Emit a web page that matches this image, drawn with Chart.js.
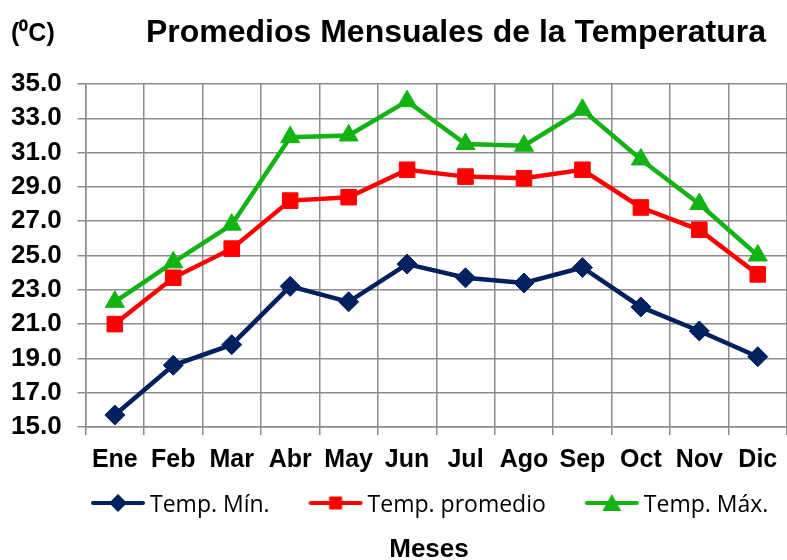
<!DOCTYPE html>
<html>
<head>
<meta charset="utf-8">
<script src="https://cdn.jsdelivr.net/npm/chart.js@4/dist/chart.umd.min.js"></script>
<style>
  html, body { margin: 0; padding: 0; background: #fff; }
  #wrap { width: 787px; height: 560px; }
</style>
</head>
<body>
<div id="wrap"><canvas id="tempChart"></canvas></div>
<script>
const meses = ["Ene", "Feb", "Mar", "Abr", "May", "Jun", "Jul", "Ago", "Sep", "Oct", "Nov", "Dic"];
const tempMin = [15.7, 18.6, 19.8, 23.2, 22.3, 24.5, 23.7, 23.4, 24.3, 22.0, 20.6, 19.1];
const tempProm = [21.0, 23.7, 25.4, 28.2, 28.4, 30.0, 29.6, 29.5, 30.0, 27.8, 26.5, 23.9];
const tempMax = [22.3, 24.6, 26.8, 31.9, 32.0, 34.0, 31.5, 31.4, 33.5, 30.6, 28.0, 25.0];
const yMin = 15, yMax = 35, yStep = 2;

const AZUL = "#002060", ROJO = "#ff0000", VERDE = "#12b312";
const GRID = "#8c8c8c";
const BOLD = "'Liberation Sans', Arial, sans-serif";

// small picture for the legend: a line with the marker in the middle
function legendIcon(color, shape) {
  const c = document.createElement("canvas");
  c.width = 56; c.height = 22;
  const g = c.getContext("2d");
  g.strokeStyle = color; g.fillStyle = color; g.lineWidth = 4; g.lineCap = "round";
  g.beginPath(); g.moveTo(3, 11); g.lineTo(53, 11); g.stroke();
  g.beginPath();
  if (shape === "diamond") {
    g.moveTo(28, 2); g.lineTo(37, 11); g.lineTo(28, 20); g.lineTo(19, 11);
  } else if (shape === "square") {
    g.rect(21.5, 4.5, 13, 13);
  } else {
    g.moveTo(28, 2); g.lineTo(37.5, 19); g.lineTo(18.5, 19);
  }
  g.closePath(); g.fill();
  return c;
}
const icons = [legendIcon(AZUL, "diamond"), legendIcon(ROJO, "square"), legendIcon(VERDE, "triangle")];

// header, legend row and "Meses" are drawn by hand around the plot
const extraText = {
  id: "extraText",
  afterDraw(chart) {
    const ctx = chart.ctx;
    ctx.save();
    ctx.fillStyle = "#000";
    ctx.textBaseline = "alphabetic";

    ctx.font = "bold 25px " + BOLD;
    ctx.textAlign = "left";
    ctx.fillText("(\u2070C)", 11, 41);
    ctx.font = "bold 32px " + BOLD;
    ctx.textAlign = "right";
    ctx.fillText("Promedios Mensuales de la Temperatura", 766, 42);

    // legend
    ctx.font = "23px 'Open Sans', sans-serif";
    ctx.textAlign = "left";
    let x = 90;
    chart.data.datasets.forEach((ds, i) => {
      ctx.drawImage(icons[i], x, 492);
      ctx.fillText(ds.label, x + 60, 512);
      x += 60 + ctx.measureText(ds.label).width + 38;
    });

    ctx.font = "bold 26px " + BOLD;
    ctx.textAlign = "center";
    ctx.fillText("Meses", 429, 557);
    ctx.restore();
  }
};

function serie(label, data, color, style, radius) {
  return {
    label: label,
    data: data,
    borderColor: color,
    backgroundColor: color,
    borderWidth: 4.5,
    pointStyle: style,
    pointRadius: radius,
    pointHoverRadius: radius,
    pointBackgroundColor: color,
    pointBorderColor: color,
    pointBorderWidth: 1,
    tension: 0
  };
}

new Chart(document.getElementById("tempChart"), {
  type: "line",
  data: {
    labels: meses,
    datasets: [
      serie("Temp. Mín.", tempMin, AZUL, "rectRot", 10),
      serie("Temp. promedio", tempProm, ROJO, "rect", 11),
      serie("Temp. Máx.", tempMax, VERDE, "triangle", 11)
    ]
  },
  options: {
    responsive: true,
    maintainAspectRatio: false,
    animation: false,
    layout: { autoPadding: false, padding: { top: 84, left: -5, right: 0, bottom: 75 } },
    scales: {
      x: {
        offset: true,
        grid: { offset: true, color: GRID, lineWidth: 1.5, tickLength: 8 },
        border: { color: GRID, width: 1.5 },
        ticks: {
          color: "#000",
          padding: 10,
          maxRotation: 0,
          autoSkip: false,
          font: { family: BOLD, size: 25, weight: "bold" }
        },
        afterFit(scale) { scale.paddingRight = 0; }
      },
      y: {
        min: yMin,
        max: yMax,
        grid: { color: GRID, lineWidth: 1.5, tickLength: 8 },
        border: { color: GRID, width: 1.5 },
        ticks: {
          stepSize: yStep,
          autoSkip: false,
          color: "#000",
          padding: 16,
          font: { family: BOLD, size: 26, weight: "bold" },
          callback: v => v.toFixed(1)
        }
      }
    },
    plugins: {
      legend: { display: false },
      title: { display: false },
      tooltip: { enabled: false }
    }
  },
  plugins: [extraText]
});
</script>
</body>
</html>
